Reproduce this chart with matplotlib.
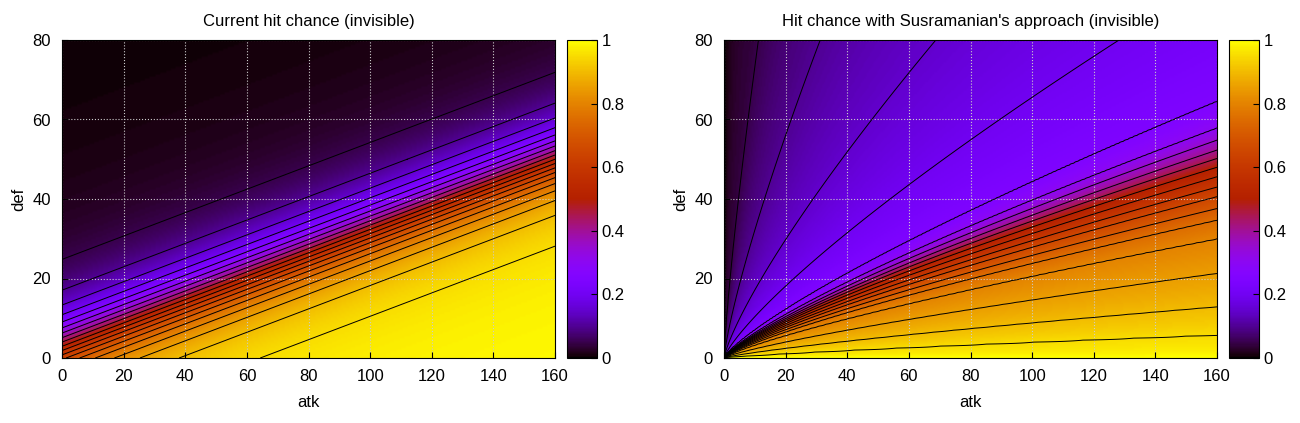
import numpy as np
import matplotlib
matplotlib.use("Agg")
import matplotlib.pyplot as plt
from matplotlib.colors import ListedColormap

plt.rcParams["font.family"] = "Liberation Sans"
plt.rcParams["font.size"] = 12

titles = ["Current hit chance (invisible)",
          "Hit chance with Susramanian's approach (invisible)"]
x_ticks = [0, 20, 40, 60, 80, 100, 120, 140, 160]
y_ticks = [0, 20, 40, 60, 80]
cb_ticks = [0, 0.2, 0.4, 0.6, 0.8, 1]
cb_labels = ["0", "0.2", "0.4", "0.6", "0.8", "1"]
levels = np.arange(0.05, 1.0, 0.05)

# right panel: hit chance read along the atk=160 edge, by equivalent def
sus_def = [0, 5.8, 12.9, 21.3, 30, 34.7, 37.6, 40.6, 43, 45.6, 48, 50.2,
           52.3, 54.8, 57.8, 64.5, 80, 114, 175, 337, 800, 5000, 1e6]
sus_hit = [1.0, 0.95, 0.9, 0.85, 0.8, 0.75, 0.7, 0.65, 0.6, 0.55, 0.5, 0.45,
           0.4, 0.35, 0.3, 0.25, 0.22, 0.18, 0.14, 0.09, 0.04, 0.01, 0.0]

# gnuplot default palette (rgbformulae 7,5,15)
t = np.linspace(0, 1, 256)
pal = np.stack([np.sqrt(t), t ** 3, np.clip(np.sin(2 * np.pi * t), 0, 1)], axis=1)
cmap = ListedColormap(pal)

atk = np.linspace(0, 160, 321)
dfn = np.linspace(0, 80, 161)
A, D = np.meshgrid(atk, dfn)

# left: current formula (estimated)
xc = (A + 10 - 3.4 * D) / 36.0
z_cur = 0.5 + 0.5 * xc / np.sqrt(1 + xc ** 2)

# right: profile mapped along curves D ~ atk^0.8
deq = D * (160 / np.maximum(A, 1e-3)) ** 0.8
z_sus = np.interp(np.log1p(deq), np.log1p(sus_def), sus_hit)
surfaces = [z_cur, z_sus]

fig = plt.figure(figsize=(13, 4.23), dpi=100)
W, H = 1300, 423
boxes = [(62, 555, 567, 597), (724, 1217, 1229, 1259)]
for (x0, x1, c0, c1), z, title in zip(boxes, surfaces, titles):
    ax = fig.add_axes([x0 / W, 1 - 358 / H, (x1 - x0) / W, 318 / H])
    im = ax.imshow(z, origin="lower", extent=[0, 160, 0, 80], aspect="auto",
                   cmap=cmap, vmin=0, vmax=1, interpolation="bilinear")
    ax.contour(A, D, z, levels=levels, colors="black", linewidths=0.7)
    ax.set_xticks(x_ticks)
    ax.set_yticks(y_ticks)
    ax.grid(True, color="#cccccc", linestyle=":", linewidth=0.8)
    ax.tick_params(direction="in", length=4, colors="black", pad=8)
    ax.set_xlabel("atk", labelpad=8)
    ax.set_ylabel("def")
    ax.set_title(title, fontsize=12, pad=10)
    cax = fig.add_axes([c0 / W, 1 - 358 / H, (c1 - c0) / W, 318 / H])
    cb = fig.colorbar(im, cax=cax, ticks=cb_ticks)
    cb.ax.set_yticklabels(cb_labels)
    cb.ax.tick_params(direction="in", length=4)
    cb.outline.set_linewidth(0.8)

fig.savefig("out.png", dpi=100)
